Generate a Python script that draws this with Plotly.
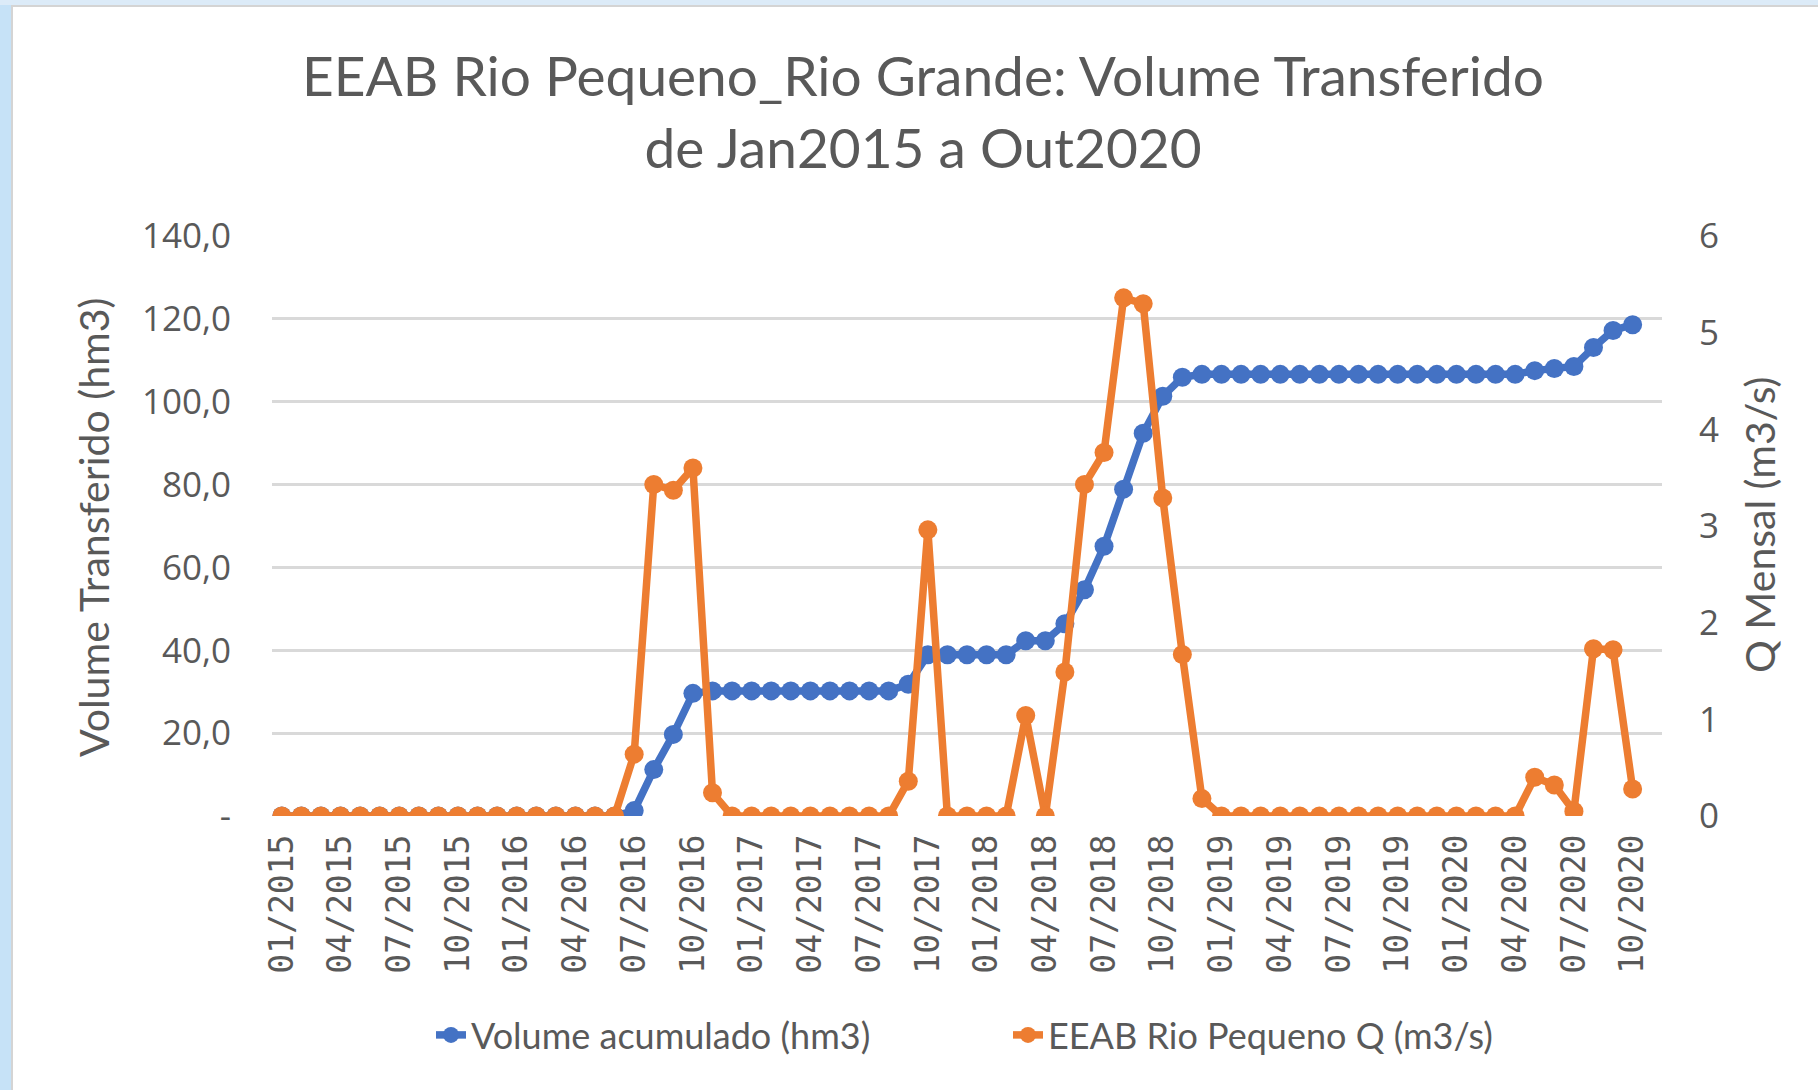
import plotly.graph_objects as go

months = [f"{m:02d}/{y}" for y in range(2015, 2021) for m in range(1, 13)][:70]

volume_hm3 = [0, 0, 0, 0, 0, 0, 0, 0, 0, 0, 0, 0, 0, 0, 0, 0, 0, 0,
              1.3, 11.2, 19.7, 29.6,
              30.2, 30.2, 30.2, 30.2, 30.2, 30.2, 30.2, 30.2, 30.2, 30.2,
              31.8,
              38.9, 38.9, 38.9, 38.9, 38.9,
              42.3, 42.3,
              46.4, 54.6, 65.1, 78.9, 92.4, 101.3, 105.9,
              106.6, 106.6, 106.6, 106.6, 106.6, 106.6, 106.6, 106.6, 106.6,
              106.6, 106.6, 106.6, 106.6, 106.6, 106.6, 106.6, 106.6,
              107.5, 108.0, 108.5, 113.1, 117.2, 118.6]

flow_m3s = [0, 0, 0, 0, 0, 0, 0, 0, 0, 0, 0, 0, 0, 0, 0, 0, 0, 0,
            0.64, 3.43, 3.37, 3.60, 0.24,
            0, 0, 0, 0, 0, 0, 0, 0, 0,
            0.36, 2.96,
            0, 0, 0, 0,
            1.04, 0,
            1.49, 3.43, 3.76, 5.36, 5.30, 3.29, 1.67, 0.18,
            0, 0, 0, 0, 0, 0, 0, 0, 0, 0, 0, 0, 0, 0, 0, 0,
            0.40, 0.32, 0.05, 1.73, 1.72, 0.28]

left_ticks = [0, 20, 40, 60, 80, 100, 120, 140]
left_ticktext = ["-", "20,0", "40,0", "60,0", "80,0", "100,0", "120,0", "140,0"]
right_ticks = [0, 1, 2, 3, 4, 5, 6]
xtick_labels = months[::3]

title_text = "EEAB Rio Pequeno_Rio Grande: Volume Transferido<br>de Jan2015 a Out2020"
name_vol = "Volume acumulado (hm3)"
name_q = "EEAB Rio Pequeno Q (m3/s)"
ytitle_left = "Volume Transferido (hm3)"
ytitle_right = "Q Mensal (m3/s)"

BLUE = "#4472C4"
ORANGE = "#ED7D31"
GREY = "#595959"

W, H = 1818, 1090
L, R, T, B = 272, 156, 236, 274
pw, ph = W - L - R, H - T - B


def px(x):
    return (x - L) / pw


def py(y):
    return (H - B - y) / ph


fig = go.Figure()
fig.add_trace(go.Scatter(x=months, y=volume_hm3, name=name_vol, mode="lines+markers",
                         line=dict(color=BLUE, width=7.5), marker=dict(color=BLUE, size=19),
                         yaxis="y"))
fig.add_trace(go.Scatter(x=months, y=flow_m3s, name=name_q, mode="lines+markers",
                         line=dict(color=ORANGE, width=7.5), marker=dict(color=ORANGE, size=19),
                         yaxis="y2"))

fig.update_layout(
    width=W, height=H,
    margin=dict(l=L, r=R, t=T, b=B),
    paper_bgcolor="white", plot_bgcolor="white",
    title=dict(text=title_text, x=923 / W, xanchor="center", y=1 - 96 / H, yanchor="middle",
               font=dict(family="Lato", size=55, color=GREY)),
    xaxis=dict(type="category", range=[-0.5, 70.5], tickmode="array",
               tickvals=xtick_labels, ticktext=xtick_labels, tickangle=-90,
               showgrid=False, showline=False, ticks="", zeroline=False,
               tickfont=dict(family="DejaVu Sans Mono", size=33, color=GREY),
               ticklabelstandoff=11),
    yaxis=dict(range=[0, 140], tickvals=left_ticks, ticktext=left_ticktext,
               showgrid=True, gridcolor="#D9D9D9", gridwidth=3, zeroline=False,
               showline=False, ticks="",
               tickfont=dict(family="Open Sans", size=35, color=GREY),
               ticklabelstandoff=40),
    yaxis2=dict(range=[0, 6], tickvals=right_ticks, overlaying="y", side="right",
                showgrid=False, zeroline=False, showline=False, ticks="",
                tickfont=dict(family="Open Sans", size=35, color=GREY),
                ticklabelstandoff=36),
    legend=dict(orientation="h", x=px(431), xanchor="left", y=py(1035), yanchor="middle",
                font=dict(family="Lato", size=36, color=GREY), entrywidth=532,
                bgcolor="rgba(0,0,0,0)"),
    annotations=[
        dict(text=ytitle_left, x=px(93), y=py(527), xref="paper", yref="paper",
             textangle=-90, showarrow=False, xanchor="center", yanchor="middle",
             font=dict(family="Lato", size=41, color=GREY)),
        dict(text=ytitle_right, x=px(1759), y=py(525), xref="paper", yref="paper",
             textangle=-90, showarrow=False, xanchor="center", yanchor="middle",
             font=dict(family="Lato", size=41, color=GREY)),
    ],
    shapes=[
        dict(type="rect", xref="paper", yref="paper", x0=px(0), x1=px(11), y0=py(H), y1=py(0),
             fillcolor="#C6E2F7", line=dict(width=0), layer="below"),
        dict(type="rect", xref="paper", yref="paper", x0=px(11), x1=px(13), y0=py(H), y1=py(5),
             fillcolor="#D4D4D4", line=dict(width=0), layer="below"),
        dict(type="rect", xref="paper", yref="paper", x0=px(0), x1=px(W), y0=py(5), y1=py(0),
             fillcolor="#DCEBF8", line=dict(width=0), layer="below"),
        dict(type="rect", xref="paper", yref="paper", x0=px(11), x1=px(W), y0=py(7), y1=py(5),
             fillcolor="#D4D4D4", line=dict(width=0), layer="below"),
    ],
)

fig.write_html("out.html", config={"displayModeBar": False},
               post_script="document.body.style.margin='0px';document.body.style.overflow='hidden';")
